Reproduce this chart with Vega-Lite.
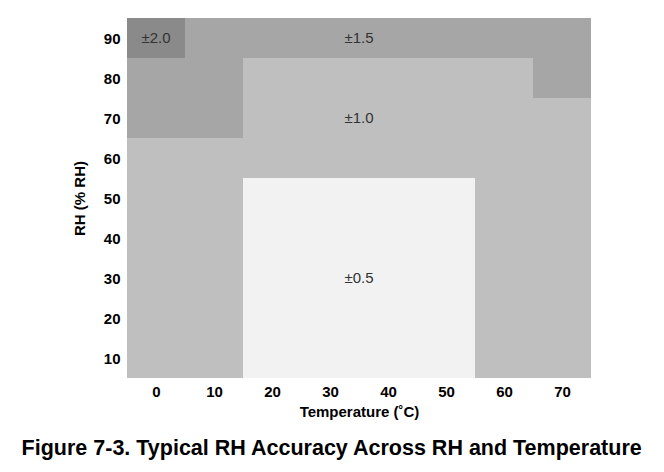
{
  "$schema": "https://vega.github.io/schema/vega-lite/v6.json",
  "width": 464,
  "height": 360,
  "autosize": {"type": "none"},
  "padding": {"left": 127, "top": 18, "right": 73, "bottom": 94},
  "background": "white",
  "config": {"view": {"stroke": null}, "font": "Liberation Sans"},
  "title": {
    "text": "Figure 7-3. Typical RH Accuracy Across RH and Temperature",
    "orient": "bottom",
    "anchor": "middle",
    "frame": "bounds",
    "fontSize": 21.5,
    "font": "Liberation Sans",
    "fontWeight": "bold",
    "color": "#000000",
    "offset": 19
  },
  "datasets": {
    "cells": [
      {"t": 0, "rh": 90, "acc": "±2.0"}, {"t": 10, "rh": 90, "acc": "±1.5"}, {"t": 20, "rh": 90, "acc": "±1.5"}, {"t": 30, "rh": 90, "acc": "±1.5"},
      {"t": 40, "rh": 90, "acc": "±1.5"}, {"t": 50, "rh": 90, "acc": "±1.5"}, {"t": 60, "rh": 90, "acc": "±1.5"}, {"t": 70, "rh": 90, "acc": "±1.5"},
      {"t": 0, "rh": 80, "acc": "±1.5"}, {"t": 10, "rh": 80, "acc": "±1.5"}, {"t": 20, "rh": 80, "acc": "±1.0"}, {"t": 30, "rh": 80, "acc": "±1.0"},
      {"t": 40, "rh": 80, "acc": "±1.0"}, {"t": 50, "rh": 80, "acc": "±1.0"}, {"t": 60, "rh": 80, "acc": "±1.0"}, {"t": 70, "rh": 80, "acc": "±1.5"},
      {"t": 0, "rh": 70, "acc": "±1.5"}, {"t": 10, "rh": 70, "acc": "±1.5"}, {"t": 20, "rh": 70, "acc": "±1.0"}, {"t": 30, "rh": 70, "acc": "±1.0"},
      {"t": 40, "rh": 70, "acc": "±1.0"}, {"t": 50, "rh": 70, "acc": "±1.0"}, {"t": 60, "rh": 70, "acc": "±1.0"}, {"t": 70, "rh": 70, "acc": "±1.0"},
      {"t": 0, "rh": 60, "acc": "±1.0"}, {"t": 10, "rh": 60, "acc": "±1.0"}, {"t": 20, "rh": 60, "acc": "±1.0"}, {"t": 30, "rh": 60, "acc": "±1.0"},
      {"t": 40, "rh": 60, "acc": "±1.0"}, {"t": 50, "rh": 60, "acc": "±1.0"}, {"t": 60, "rh": 60, "acc": "±1.0"}, {"t": 70, "rh": 60, "acc": "±1.0"},
      {"t": 0, "rh": 50, "acc": "±1.0"}, {"t": 10, "rh": 50, "acc": "±1.0"}, {"t": 20, "rh": 50, "acc": "±0.5"}, {"t": 30, "rh": 50, "acc": "±0.5"},
      {"t": 40, "rh": 50, "acc": "±0.5"}, {"t": 50, "rh": 50, "acc": "±0.5"}, {"t": 60, "rh": 50, "acc": "±1.0"}, {"t": 70, "rh": 50, "acc": "±1.0"},
      {"t": 0, "rh": 40, "acc": "±1.0"}, {"t": 10, "rh": 40, "acc": "±1.0"}, {"t": 20, "rh": 40, "acc": "±0.5"}, {"t": 30, "rh": 40, "acc": "±0.5"},
      {"t": 40, "rh": 40, "acc": "±0.5"}, {"t": 50, "rh": 40, "acc": "±0.5"}, {"t": 60, "rh": 40, "acc": "±1.0"}, {"t": 70, "rh": 40, "acc": "±1.0"},
      {"t": 0, "rh": 30, "acc": "±1.0"}, {"t": 10, "rh": 30, "acc": "±1.0"}, {"t": 20, "rh": 30, "acc": "±0.5"}, {"t": 30, "rh": 30, "acc": "±0.5"},
      {"t": 40, "rh": 30, "acc": "±0.5"}, {"t": 50, "rh": 30, "acc": "±0.5"}, {"t": 60, "rh": 30, "acc": "±1.0"}, {"t": 70, "rh": 30, "acc": "±1.0"},
      {"t": 0, "rh": 20, "acc": "±1.0"}, {"t": 10, "rh": 20, "acc": "±1.0"}, {"t": 20, "rh": 20, "acc": "±0.5"}, {"t": 30, "rh": 20, "acc": "±0.5"},
      {"t": 40, "rh": 20, "acc": "±0.5"}, {"t": 50, "rh": 20, "acc": "±0.5"}, {"t": 60, "rh": 20, "acc": "±1.0"}, {"t": 70, "rh": 20, "acc": "±1.0"},
      {"t": 0, "rh": 10, "acc": "±1.0"}, {"t": 10, "rh": 10, "acc": "±1.0"}, {"t": 20, "rh": 10, "acc": "±0.5"}, {"t": 30, "rh": 10, "acc": "±0.5"},
      {"t": 40, "rh": 10, "acc": "±0.5"}, {"t": 50, "rh": 10, "acc": "±0.5"}, {"t": 60, "rh": 10, "acc": "±1.0"}, {"t": 70, "rh": 10, "acc": "±1.0"}
    ],
    "labels": [
      {"t": 0, "rh": 90, "label": "±2.0"},
      {"t": 35, "rh": 90, "label": "±1.5"},
      {"t": 35, "rh": 70, "label": "±1.0"},
      {"t": 35, "rh": 30, "label": "±0.5"}
    ]
  },
  "layer": [
    {
      "data": {"name": "cells"},
      "transform": [
        {"calculate": "datum.t - 5", "as": "t0"},
        {"calculate": "datum.t + 5", "as": "t1"},
        {"calculate": "datum.rh - 5", "as": "r0"},
        {"calculate": "datum.rh + 5", "as": "r1"}
      ],
      "mark": {"type": "rect"},
      "encoding": {
        "x": {
          "field": "t0",
          "type": "quantitative",
          "scale": {"domain": [-5, 75], "nice": false, "zero": false},
          "axis": {
            "title": "Temperature (˚C)",
            "values": [0, 10, 20, 30, 40, 50, 60, 70],
            "ticks": false,
            "tickSize": 0,
            "domain": false,
            "grid": false,
            "labelFlush": false,
            "labelFontSize": 15,
            "labelFontWeight": "bold",
            "labelColor": "#000000",
            "labelPadding": 6,
            "titleFontSize": 15,
            "titleFontWeight": "bold",
            "titleColor": "#000000",
            "titlePadding": 5
          }
        },
        "x2": {"field": "t1"},
        "y": {
          "field": "r0",
          "type": "quantitative",
          "scale": {"domain": [5, 95], "nice": false, "zero": false},
          "axis": {
            "title": "RH (% RH)",
            "values": [10, 20, 30, 40, 50, 60, 70, 80, 90],
            "ticks": false,
            "tickSize": 0,
            "domain": false,
            "grid": false,
            "labelFlush": false,
            "labelFontSize": 15,
            "labelFontWeight": "bold",
            "labelColor": "#000000",
            "labelPadding": 7,
            "titleFontSize": 15,
            "titleFontWeight": "bold",
            "titleColor": "#000000",
            "titlePadding": 16
          }
        },
        "y2": {"field": "r1"},
        "color": {
          "field": "acc",
          "type": "nominal",
          "scale": {"domain": ["±0.5", "±1.0", "±1.5", "±2.0"], "range": ["#f2f2f2", "#bfbfbf", "#a6a6a6", "#8a8a8a"]},
          "legend": null
        }
      }
    },
    {
      "data": {"name": "labels"},
      "mark": {"type": "text", "fontSize": 15, "color": "#333333", "font": "Liberation Sans"},
      "encoding": {
        "x": {"field": "t", "type": "quantitative"},
        "y": {"field": "rh", "type": "quantitative"},
        "text": {"field": "label"}
      }
    }
  ]
}
